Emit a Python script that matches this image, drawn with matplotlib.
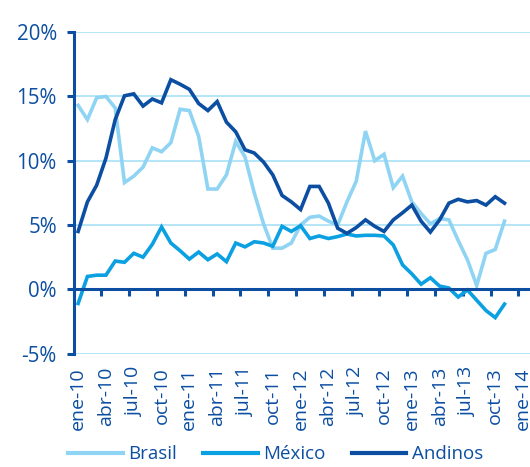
import matplotlib.pyplot as plt
import numpy as np

plt.rcParams['font.family'] = ['Open Sans', 'DejaVu Sans']

# monthly values, ene-10 .. nov-13 (% y/y)
brasil = [14.3, 13.2, 14.9, 15.0, 14.1, 8.3, 8.8, 9.5, 11.0, 10.7, 11.4, 14.0,
          13.9, 11.9, 7.8, 7.8, 8.9, 11.5, 10.3, 7.5, 5.1, 3.2, 3.2, 3.6,
          5.0, 5.6, 5.7, 5.3, 5.0, 6.8, 8.4, 12.3, 10.0, 10.5, 7.9, 8.8,
          6.8, 5.9, 5.1, 5.5, 5.4, 3.8, 2.3, 0.3, 2.8, 3.1, 5.3]
mexico = [-1.1, 1.0, 1.1, 1.1, 2.2, 2.1, 2.8, 2.5, 3.5, 4.85, 3.6, 3.0,
          2.35, 2.9, 2.3, 2.75, 2.15, 3.6, 3.3, 3.7, 3.6, 3.35, 4.9, 4.5,
          4.95, 3.95, 4.15, 3.95, 4.1, 4.3, 4.15, 4.2, 4.2, 4.15, 3.45, 1.9,
          1.2, 0.4, 0.9, 0.25, 0.1, -0.6, -0.05, -0.85, -1.65, -2.2, -1.15]
andinos = [4.5, 6.8, 8.1, 10.2, 13.2, 15.05, 15.2, 14.25, 14.8, 14.5, 16.3, 15.95,
           15.55, 14.45, 13.9, 14.6, 13.0, 12.25, 10.85, 10.6, 9.9, 8.9, 7.3, 6.8,
           6.2, 8.0, 8.0, 6.7, 4.75, 4.35, 4.8, 5.4, 4.9, 4.5, 5.4, 5.95,
           6.55, 5.3, 4.45, 5.4, 6.7, 7.0, 6.8, 6.9, 6.55, 7.2, 6.7]

meses = ['ene', 'abr', 'jul', 'oct']
years = ['10', '11', '12', '13']
xlabels = [m + '-' + y for y in years for m in meses] + ['ene-14']
yticks = [-5, 0, 5, 10, 15, 20]

dark = '#0b4ea2'
mid = '#0aa0e2'
light = '#8fd4f3'
grid = '#a9e0f7'

fig = plt.figure(figsize=(5.3, 4.67), dpi=100)
ax = fig.add_axes([0.1387, 0.2428, 0.8613, 0.6884])

x = np.arange(len(brasil))
ax.plot(x, brasil, color=light, lw=2.6, label='Brasil', solid_joinstyle='miter')
ax.plot(x, mexico, color=mid, lw=2.6, label='México', solid_joinstyle='miter')
ax.plot(x, andinos, color=dark, lw=2.6, label='Andinos', solid_joinstyle='miter')

ax.set_xlim(-0.5, 48.75)
ax.set_ylim(-5, 20)
ax.set_yticks(yticks)
ax.set_yticklabels([str(v) + '%' for v in yticks])
ax.yaxis.grid(True, color=grid, lw=1.2)
ax.set_axisbelow(True)

# x axis sits on the 0% line, labels hang below the plot
ax.spines['bottom'].set_position(('data', 0))
ax.spines['bottom'].set_color(dark)
ax.spines['bottom'].set_linewidth(2.2)
ax.spines['left'].set_color(dark)
ax.spines['left'].set_linewidth(2.2)
ax.spines['top'].set_visible(False)
ax.spines['right'].set_visible(False)

ax.set_xticks(np.arange(0, 49, 3))
ax.set_xticklabels(xlabels, rotation=90)
ax.set_xticks(np.arange(-0.5, 49, 3), minor=True)
ax.tick_params(axis='x', which='major', length=0, pad=56, labelsize=14, labelcolor=dark)
ax.tick_params(axis='x', which='minor', length=5, width=2.2, color=dark, direction='out')
ax.tick_params(axis='y', length=5, width=2.2, color=dark, pad=7, labelsize=14.8, labelcolor=dark)

leg = fig.legend(loc='center', bbox_to_anchor=(0.52, 0.027), ncol=3, frameon=False,
                 fontsize=13.5, handlelength=2.9, handletextpad=0.3, columnspacing=1.4)
for t in leg.get_texts():
    t.set_color(dark)
for h in leg.get_lines():
    h.set_linewidth(3)

fig.savefig('out.png', dpi=100)
